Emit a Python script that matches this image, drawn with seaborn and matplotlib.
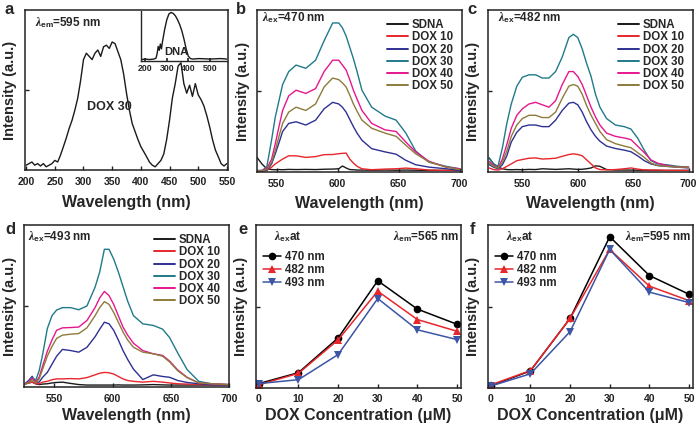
import matplotlib
matplotlib.use('Agg')
import matplotlib.pyplot as plt
import pandas as pd
import seaborn as sb

# ---- panel a : excitation spectrum (em 595 nm), DOX 30
wl_a = [200, 205, 210, 215, 220, 225, 230, 235, 240, 245, 250, 255, 260, 265, 270,
        275, 280, 285, 290, 295, 300, 305, 310, 315, 320, 325, 330, 335, 340, 345,
        350, 355, 360, 365, 370, 375, 380, 385, 390, 395, 400, 405, 410, 415, 420,
        425, 430, 435, 440, 445, 450, 455, 460, 465, 470, 475, 480, 485, 490, 495,
        500, 505, 510, 515, 520, 525, 530, 535, 540, 545, 550]
dox30_a = [0.03, 0.04, 0.05, 0.03, 0.04, 0.025, 0.04, 0.02, 0.03, 0.04, 0.06, 0.05, 0.094, 0.146, 0.20,
           0.26, 0.31, 0.375, 0.45, 0.56, 0.69, 0.73, 0.71, 0.69, 0.73, 0.75, 0.71, 0.77, 0.78, 0.76,
           0.80, 0.79, 0.74, 0.69, 0.60, 0.48, 0.375, 0.29, 0.24, 0.19, 0.146, 0.115, 0.083, 0.05, 0.03,
           0.02, 0.04, 0.06, 0.10, 0.19, 0.31, 0.45, 0.54, 0.65, 0.67, 0.54, 0.48, 0.53, 0.46, 0.54,
           0.47, 0.44, 0.40, 0.34, 0.27, 0.19, 0.125, 0.083, 0.04, 0.025, 0.04]

# inset : DNA
wl_dna = [180, 200, 220, 240, 250, 255, 260, 265, 270, 275, 280, 290, 300, 310, 320,
          330, 340, 350, 360, 370, 380, 390, 400, 410, 420, 450, 500, 550, 580]
dna = [0.03, 0.04, 0.03, 0.04, 0.06, 0.15, 0.30, 0.22, 0.35, 0.25, 0.40, 0.65, 0.85, 0.97, 1.0,
       0.98, 0.93, 0.85, 0.75, 0.62, 0.45, 0.25, 0.10, 0.05, 0.04, 0.05, 0.04, 0.05, 0.04]

# ---- panel b : ex 470 nm
wl_b = [534, 538, 542, 546, 549, 552, 555, 560, 566, 574, 582, 589, 596, 601, 604,
        607, 610, 613, 616, 620, 628, 639, 648, 656, 664, 675, 689, 700]
sdna_b = [0.09, 0.05, 0.02, 0.015, 0.014, 0.015, 0.014, 0.016, 0.015, 0.016, 0.015, 0.017, 0.018, 0.02, 0.037,
          0.025, 0.015, 0.014, 0.012, 0.012, 0.011, 0.012, 0.011, 0.012, 0.011, 0.01, 0.01, 0.01]
dox10_b = [0.005, 0.006, 0.01, 0.03, 0.05, 0.065, 0.08, 0.10, 0.10, 0.09, 0.095, 0.107, 0.108, 0.113, 0.115,
           0.117, 0.08, 0.055, 0.035, 0.02, 0.014, 0.018, 0.02, 0.024, 0.02, 0.012, 0.01, 0.01]
dox20_b = [0.005, 0.006, 0.01, 0.05, 0.113, 0.18, 0.25, 0.30, 0.31, 0.29, 0.32, 0.39, 0.43, 0.42, 0.40,
           0.37, 0.325, 0.28, 0.24, 0.196, 0.144, 0.124, 0.11, 0.072, 0.045, 0.03, 0.02, 0.01]
dox30_b = [0.01, 0.01, 0.03, 0.20, 0.34, 0.44, 0.54, 0.62, 0.66, 0.64, 0.69, 0.81, 0.92, 0.92, 0.89,
           0.84, 0.77, 0.70, 0.62, 0.505, 0.40, 0.345, 0.32, 0.24, 0.13, 0.06, 0.035, 0.02]
dox40_b = [0.005, 0.01, 0.02, 0.08, 0.175, 0.28, 0.38, 0.47, 0.505, 0.485, 0.515, 0.62, 0.69, 0.69, 0.66,
           0.63, 0.57, 0.505, 0.45, 0.38, 0.30, 0.26, 0.25, 0.185, 0.124, 0.066, 0.03, 0.02]
dox50_b = [0.005, 0.008, 0.015, 0.06, 0.134, 0.22, 0.30, 0.37, 0.40, 0.38, 0.42, 0.525, 0.58, 0.57, 0.55,
           0.525, 0.475, 0.42, 0.375, 0.32, 0.27, 0.24, 0.22, 0.165, 0.113, 0.062, 0.03, 0.015]

# ---- panel c : ex 482 nm
wl_c = [520, 524, 528, 532, 536, 540, 545, 550, 556, 562, 568, 574, 580, 586, 592, 596, 600,
        604, 608, 612, 616, 620, 626, 634, 642, 648, 654, 660, 666, 672, 680, 690, 700]
sdna_c = [0.087, 0.05, 0.03, 0.02, 0.015, 0.014, 0.015, 0.014, 0.016, 0.015, 0.02, 0.018, 0.016, 0.018, 0.02, 0.018, 0.016,
          0.017, 0.02, 0.025, 0.038, 0.035, 0.015, 0.012, 0.012, 0.012, 0.011, 0.011, 0.01, 0.01, 0.01, 0.01, 0.01]
dox10_c = [0.025, 0.015, 0.012, 0.02, 0.035, 0.05, 0.07, 0.077, 0.085, 0.087, 0.08, 0.082, 0.085, 0.097, 0.108, 0.112, 0.108,
           0.10, 0.075, 0.05, 0.025, 0.015, 0.013, 0.015, 0.02, 0.025, 0.018, 0.013, 0.012, 0.012, 0.01, 0.01, 0.01]
dox20_c = [0.046, 0.03, 0.02, 0.045, 0.10, 0.185, 0.245, 0.28, 0.29, 0.29, 0.28, 0.28, 0.32, 0.38, 0.425, 0.43, 0.415,
           0.37, 0.31, 0.26, 0.22, 0.19, 0.16, 0.145, 0.135, 0.125, 0.10, 0.07, 0.05, 0.04, 0.035, 0.03, 0.025]
dox30_c = [0.087, 0.05, 0.035, 0.15, 0.30, 0.42, 0.53, 0.585, 0.60, 0.60, 0.58, 0.58, 0.62, 0.71, 0.83, 0.85, 0.83,
           0.76, 0.67, 0.59, 0.48, 0.40, 0.33, 0.29, 0.28, 0.265, 0.21, 0.135, 0.07, 0.05, 0.045, 0.035, 0.03]
dox40_c = [0.066, 0.04, 0.025, 0.08, 0.17, 0.27, 0.35, 0.39, 0.42, 0.43, 0.415, 0.40, 0.44, 0.54, 0.62, 0.62, 0.59,
           0.54, 0.47, 0.40, 0.34, 0.29, 0.24, 0.22, 0.21, 0.20, 0.16, 0.12, 0.075, 0.055, 0.04, 0.03, 0.03]
dox50_c = [0.056, 0.035, 0.025, 0.06, 0.13, 0.22, 0.29, 0.33, 0.35, 0.35, 0.336, 0.336, 0.37, 0.455, 0.53, 0.54, 0.53,
           0.48, 0.41, 0.35, 0.30, 0.25, 0.20, 0.175, 0.16, 0.15, 0.12, 0.09, 0.055, 0.04, 0.035, 0.03, 0.03]

# ---- panel d : ex 493 nm
wl_d = [524, 528, 531, 534, 537, 540, 544, 548, 552, 557, 564, 571, 578, 585, 589, 593,
        597, 601, 605, 609, 613, 618, 626, 635, 643, 649, 656, 664, 674, 685, 700]
sdna_d = [0.02, 0.025, 0.03, 0.02, 0.015, 0.018, 0.02, 0.025, 0.028, 0.03, 0.022, 0.015, 0.012, 0.012, 0.012, 0.012,
          0.012, 0.012, 0.013, 0.012, 0.012, 0.012, 0.013, 0.015, 0.013, 0.012, 0.012, 0.012, 0.012, 0.012, 0.012]
dox10_d = [0.015, 0.025, 0.03, 0.02, 0.02, 0.03, 0.035, 0.045, 0.05, 0.05, 0.052, 0.05, 0.058, 0.075, 0.085, 0.09,
           0.088, 0.08, 0.065, 0.05, 0.04, 0.035, 0.03, 0.035, 0.03, 0.025, 0.02, 0.018, 0.015, 0.015, 0.012]
dox20_d = [0.015, 0.04, 0.066, 0.03, 0.03, 0.06, 0.09, 0.14, 0.19, 0.232, 0.225, 0.215, 0.245, 0.31, 0.357, 0.40,
           0.39, 0.35, 0.29, 0.225, 0.17, 0.11, 0.046, 0.075, 0.065, 0.06, 0.04, 0.028, 0.02, 0.015, 0.012]
dox30_d = [0.015, 0.03, 0.06, 0.04, 0.10, 0.20, 0.36, 0.44, 0.475, 0.49, 0.49, 0.477, 0.50, 0.616, 0.71, 0.85,
           0.85, 0.79, 0.71, 0.62, 0.53, 0.44, 0.39, 0.38, 0.357, 0.305, 0.21, 0.108, 0.035, 0.02, 0.015]
dox40_d = [0.015, 0.03, 0.055, 0.03, 0.06, 0.13, 0.22, 0.29, 0.35, 0.365, 0.367, 0.37, 0.41, 0.49, 0.55, 0.59,
           0.564, 0.51, 0.44, 0.37, 0.32, 0.27, 0.225, 0.205, 0.195, 0.16, 0.105, 0.06, 0.025, 0.02, 0.015]
dox50_d = [0.015, 0.025, 0.045, 0.025, 0.05, 0.11, 0.19, 0.25, 0.30, 0.32, 0.326, 0.33, 0.365, 0.44, 0.49, 0.527,
           0.51, 0.46, 0.40, 0.34, 0.29, 0.245, 0.215, 0.205, 0.19, 0.155, 0.10, 0.058, 0.025, 0.02, 0.015]

# ---- panels e, f : intensity vs DOX concentration
conc = [0, 10, 20, 30, 40, 50]
ex_labels = ['470 nm', '482 nm', '493 nm']
em565 = {'470 nm': [0.027, 0.094, 0.307, 0.658, 0.484, 0.391],
         '482 nm': [0.020, 0.090, 0.295, 0.594, 0.420, 0.348],
         '493 nm': [0.027, 0.051, 0.205, 0.549, 0.357, 0.297]}
em595 = {'470 nm': [0.014, 0.105, 0.427, 0.928, 0.690, 0.575],
         '482 nm': [0.019, 0.107, 0.427, 0.850, 0.625, 0.536],
         '493 nm': [0.012, 0.087, 0.346, 0.850, 0.588, 0.524]}

dox_labels = ['SDNA', 'DOX 10', 'DOX 20', 'DOX 30', 'DOX 40', 'DOX 50']
dox_colours = ['#1a1a1a', '#e8262b', '#2e3192', '#207a8a', '#e5178d', '#8d7b3b']
ex_colours = ['#000000', '#e8262b', '#3c55a5']

sb.set_theme(style='ticks')
plt.rcParams['font.family'] = ['Liberation Sans', 'DejaVu Sans']
plt.rcParams['font.weight'] = 'bold'
plt.rcParams['axes.labelweight'] = 'bold'
plt.rcParams['mathtext.fontset'] = 'custom'
plt.rcParams['mathtext.rm'] = 'Liberation Sans:bold'
plt.rcParams['mathtext.bf'] = 'Liberation Sans:bold'
plt.rcParams['mathtext.it'] = 'Liberation Serif:italic'

W, H = 700.0, 425.0


def box(l, t, r, b):
    # pixel box -> figure fraction
    return [l / W, 1 - b / H, (r - l) / W, (b - t) / H]


def style_axes(ax, xlim, xticks, xlabel, tickpad=5, labelpad=5, ylab_px=8):
    ax.set_xlim(xlim)
    ax.set_ylim(0, 1)
    ax.set_xticks(xticks)
    ax.set_yticks([0.5])
    ax.set_yticklabels([])
    ax.tick_params(direction='in', length=3, width=1, labelsize=7.5, pad=tickpad, colors='#222222')
    for s in ax.spines.values():
        s.set_linewidth(1.1)
        s.set_color('#222222')
    ax.set_xlabel(xlabel, fontsize=11.5, labelpad=labelpad)
    ax.set_ylabel('Intensity (a.u.)', fontsize=10.5)
    # right edge of the rotated ylabel sits ylab_px pixels left of the spine
    ax.yaxis.set_label_coords(-ylab_px / (ax.get_position().width * W), 0.5)


def spectra(ax, wl, series, xlim, tickpad, labelpad, ylab_px):
    frame = pd.DataFrame({'Wavelength': wl * len(series),
                          'Intensity': [v for s in series for v in s],
                          'Sample': [lab for lab in dox_labels for _ in wl]})
    sb.lineplot(data=frame, x='Wavelength', y='Intensity', hue='Sample', hue_order=dox_labels,
                palette=dox_colours, estimator=None, sort=False, lw=1.0, ax=ax)
    style_axes(ax, xlim, [550, 600, 650, 700], 'Wavelength (nm)', tickpad, labelpad, ylab_px)
    leg = ax.legend(loc='upper right', frameon=False, fontsize=8.3, handlelength=1.8,
                    handletextpad=0.35, labelspacing=0.02, borderaxespad=0.4)
    for h in leg.get_lines():
        h.set_linewidth(1.4)


def conc_plot(ax, data, em_text):
    frame = pd.DataFrame({'Conc': conc * 3,
                          'Intensity': [v for lab in ex_labels for v in data[lab]],
                          'Ex': [lab for lab in ex_labels for _ in conc]})
    sb.lineplot(data=frame, x='Conc', y='Intensity', hue='Ex', style='Ex', hue_order=ex_labels,
                markers=['o', '^', 'v'], dashes=False, palette=ex_colours, lw=1.1,
                markersize=5.5, markeredgewidth=0, ax=ax)
    style_axes(ax, (-0.7, 51), conc, 'DOX Concentration (μM)', 4, 3, 8)
    ax.legend(loc='upper left', bbox_to_anchor=(0.0, 0.88), frameon=False, fontsize=8.3,
              handlelength=1.6, handletextpad=0.35, labelspacing=0.05, borderaxespad=0.2)
    ax.text(0.09, 0.93, r'$\lambda_{\rm ex}$at', transform=ax.transAxes, fontsize=8.5, va='center')
    ax.text(0.99, 0.93, em_text, transform=ax.transAxes, fontsize=8.5, va='center', ha='right')


fig = plt.figure(figsize=(7, 4.25), dpi=100)

# a
ax_a = fig.add_axes(box(25, 10, 228, 170))
sb.lineplot(x=wl_a, y=dox30_a, color='#1a1a1a', lw=1.0, ax=ax_a)
style_axes(ax_a, (198, 552), list(range(200, 551, 50)), 'Wavelength (nm)', 5, 6, 7.5)
ax_a.text(0.05, 0.92, r'$\lambda_{\rm em}$=595 nm', transform=ax_a.transAxes, fontsize=8.5, va='center')
ax_a.text(0.414, 0.394, 'DOX 30', transform=ax_a.transAxes, fontsize=9, ha='center', va='center')

ax_in = fig.add_axes(box(141, 11, 227, 61))
sb.lineplot(x=wl_dna, y=dna, color='#1a1a1a', lw=1.0, ax=ax_in)
ax_in.set_xlim(180, 580)
ax_in.set_ylim(0, 1.03)
ax_in.set_xticks([200, 300, 400, 500])
ax_in.set_yticks([])
ax_in.spines['top'].set_visible(False)
ax_in.spines['right'].set_visible(False)
for s in ['left', 'bottom']:
    ax_in.spines[s].set_linewidth(1.0)
ax_in.tick_params(direction='in', length=2, labelsize=6.3, pad=2)
ax_in.patch.set_alpha(0)
ax_in.text(0.41, 0.18, 'DNA', transform=ax_in.transAxes, fontsize=8, ha='center', va='center')

# b
ax_b = fig.add_axes(box(257, 10, 462, 172))
spectra(ax_b, wl_b, [sdna_b, dox10_b, dox20_b, dox30_b, dox40_b, dox50_b], (534, 702), 5, 5, 7)
ax_b.text(0.025, 0.955, r'$\lambda_{\rm ex}$=470 nm', transform=ax_b.transAxes, fontsize=8.5, va='center')

# c
ax_c = fig.add_axes(box(488, 10, 693, 172))
spectra(ax_c, wl_c, [sdna_c, dox10_c, dox20_c, dox30_c, dox40_c, dox50_c], (519, 704), 5, 5, 8)
ax_c.text(0.05, 0.955, r'$\lambda_{\rm ex}$=482 nm', transform=ax_c.transAxes, fontsize=8.5, va='center')

# d
ax_d = fig.add_axes(box(24, 225, 229, 387))
spectra(ax_d, wl_d, [sdna_d, dox10_d, dox20_d, dox30_d, dox40_d, dox50_d], (524, 700), 5, 3, 6.5)
ax_d.text(0.02, 0.93, r'$\lambda_{\rm ex}$=493 nm', transform=ax_d.transAxes, fontsize=8.5, va='center')

# e, f
ax_e = fig.add_axes(box(256, 225, 461, 388))
conc_plot(ax_e, em565, r'$\lambda_{\rm em}$=565 nm')
ax_f = fig.add_axes(box(488, 225, 693, 388))
conc_plot(ax_f, em595, r'$\lambda_{\rm em}$=595 nm')

for letter, x, y in [('a', 9, 10), ('b', 241, 10), ('c', 472, 10),
                     ('d', 10, 229), ('e', 243, 230), ('f', 472, 229)]:
    fig.text(x / W, 1 - y / H, letter, fontsize=12, ha='center', va='center')

fig.savefig('out.png', dpi=100)
